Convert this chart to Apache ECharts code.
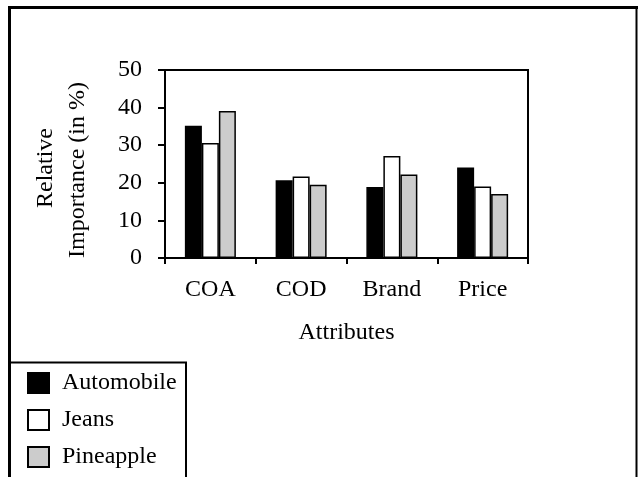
<!DOCTYPE html>
<html>
<head>
<meta charset="utf-8">
<script src="https://cdn.jsdelivr.net/npm/echarts@6/dist/echarts.min.js"></script>
<style>html,body{margin:0;padding:0;background:#fff;}#c{width:638px;height:477px;}</style>
</head>
<body>
<div id="c"></div>
<script>
var categories = ['COA', 'COD', 'Brand', 'Price'];
var automobile = [35.2, 20.7, 18.9, 24.1];
var jeans = [30.6, 21.7, 27.1, 19.0];
var pineapple = [39.1, 19.5, 22.2, 17.0];
var yTicks = [0, 10, 20, 30, 40, 50];
var seriesNames = ['Automobile', 'Jeans', 'Pineapple'];

var FONT = '"Liberation Serif", "Times New Roman", serif';
var chart = echarts.init(document.getElementById('c'), null, {renderer: 'canvas'});

function bar(name, data, color) {
  return {
    name: name, type: 'bar', data: data, barWidth: 17, barGap: '0%',
    itemStyle: {color: color, borderColor: '#000', borderWidth: 1.5},
    emphasis: {disabled: true}
  };
}

chart.setOption({
  animation: false,
  backgroundColor: '#fff',
  textStyle: {fontFamily: FONT, color: '#000'},
  grid: {left: 165, top: 70, right: 110, bottom: 219, show: true, borderColor: '#000', borderWidth: 2, backgroundColor: 'transparent'},
  xAxis: {
    type: 'category', data: categories, boundaryGap: true,
    axisLine: {lineStyle: {color: '#000', width: 2}},
    axisTick: {show: true, length: 6, lineStyle: {color: '#000', width: 2}},
    axisLabel: {color: '#000', fontFamily: FONT, fontSize: 24, margin: 20},
    name: 'Attributes', nameLocation: 'middle', nameGap: 63,
    nameTextStyle: {color: '#000', fontFamily: FONT, fontSize: 24}
  },
  yAxis: {
    type: 'value', min: yTicks[0], max: yTicks[yTicks.length - 1], interval: 10,
    axisLine: {show: true, lineStyle: {color: '#000', width: 2}},
    axisTick: {show: true, length: 7, lineStyle: {color: '#000', width: 2}},
    splitLine: {show: false},
    axisLabel: {color: '#000', fontFamily: FONT, fontSize: 24, margin: 23}
  },
  legend: {
    data: seriesNames, orient: 'vertical', left: 22, top: 366, height: 200,
    itemWidth: 21, itemHeight: 20, itemGap: 13, icon: 'rect',
    textStyle: {color: '#000', fontFamily: FONT, fontSize: 24, padding: [0, 0, 0, 8]},
    selectedMode: false
  },
  series: [
    bar(seriesNames[0], automobile, '#000'),
    bar(seriesNames[1], jeans, '#fff'),
    bar(seriesNames[2], pineapple, '#cccccc')
  ],
  graphic: [
    {type: 'line', shape: {x1: 8, y1: 7.5, x2: 638, y2: 7.5}, style: {stroke: '#000', lineWidth: 3}},
    {type: 'line', shape: {x1: 9.5, y1: 6, x2: 9.5, y2: 477}, style: {stroke: '#000', lineWidth: 3}},
    {type: 'line', shape: {x1: 636.5, y1: 6, x2: 636.5, y2: 477}, style: {stroke: '#000', lineWidth: 2}},
    {type: 'rect', shape: {x: 10, y: 362.5, width: 176, height: 130}, style: {fill: 'none', stroke: '#000', lineWidth: 2}},
    {type: 'text', x: 46, y: 168, rotation: Math.PI / 2,
      style: {text: 'Relative', font: '24px ' + FONT, fill: '#000', align: 'center', verticalAlign: 'middle'}},
    {type: 'text', x: 78, y: 170, rotation: Math.PI / 2,
      style: {text: 'Importance (in %)', font: '24px ' + FONT, fill: '#000', align: 'center', verticalAlign: 'middle'}}
  ]
});
</script>
</body>
</html>
